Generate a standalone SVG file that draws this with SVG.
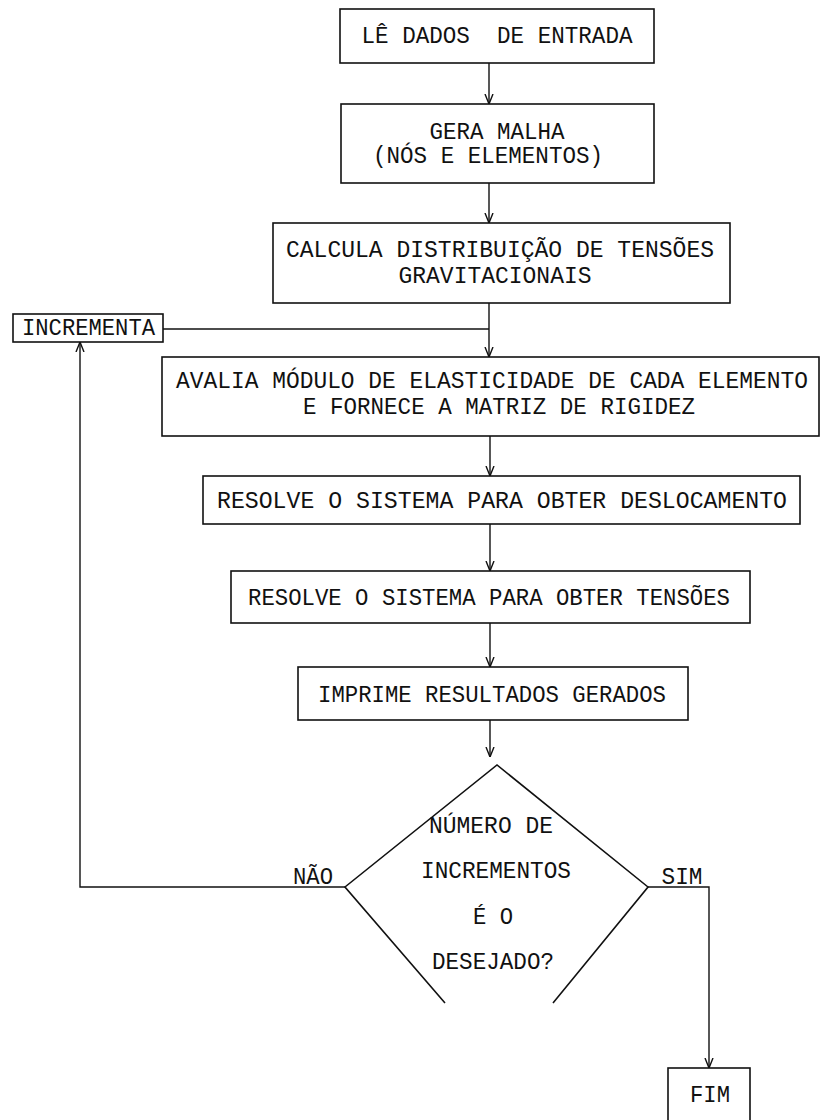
<svg xmlns="http://www.w3.org/2000/svg" width="823" height="1120" viewBox="0 0 823 1120">
<style>
  .box { fill: #fff; stroke: #111; stroke-width: 1.6; }
  .ln { fill: none; stroke: #111; stroke-width: 1.4; }
  .t { font-family: "Liberation Mono", "DejaVu Sans Mono", monospace; font-size: 23px; fill: #111; text-anchor: middle; }
</style>
<defs>
  <marker id="arr" viewBox="0 0 10 10" refX="10" refY="5" markerWidth="10" markerHeight="10" markerUnits="userSpaceOnUse" orient="auto">
    <path d="M0,1 L10,5 L0,9" fill="none" stroke="#111" stroke-width="1.4"/>
  </marker>
</defs>
<rect width="823" height="1120" fill="#fff"/>
<g id="connectors">
  <line class="ln" x1="489" y1="63" x2="489" y2="104" marker-end="url(#arr)"/>
  <line class="ln" x1="489" y1="183" x2="489" y2="223" marker-end="url(#arr)"/>
  <line class="ln" x1="489" y1="303" x2="489" y2="357" marker-end="url(#arr)"/>
  <polyline class="ln" points="163,329 489,329"/>
  <line class="ln" x1="490" y1="436" x2="490" y2="476" marker-end="url(#arr)"/>
  <line class="ln" x1="490" y1="524" x2="490" y2="571" marker-end="url(#arr)"/>
  <line class="ln" x1="490" y1="623" x2="490" y2="667" marker-end="url(#arr)"/>
  <line class="ln" x1="490" y1="720" x2="490" y2="757" marker-end="url(#arr)"/>
  <polyline class="ln" points="345,887 80,887 80,342" marker-end="url(#arr)"/>
  <polyline class="ln" points="648,887 709,887 709,1068" marker-end="url(#arr)"/>
  <text class="t" x="313" y="884" textLength="40" lengthAdjust="spacingAndGlyphs">NÃO</text>
  <text class="t" x="682" y="884" textLength="41" lengthAdjust="spacingAndGlyphs">SIM</text>
</g>
<g id="n1">
  <rect class="box" x="340" y="9" width="314" height="54"/>
  <text class="t" x="497" y="43" xml:space="preserve" textLength="271" lengthAdjust="spacingAndGlyphs">LÊ DADOS  DE ENTRADA</text>
</g>
<g id="n2">
  <rect class="box" x="341" y="104" width="313" height="79"/>
  <text class="t" x="497" y="139" textLength="135" lengthAdjust="spacingAndGlyphs">GERA MALHA</text>
  <text class="t" x="488" y="163" textLength="230" lengthAdjust="spacingAndGlyphs">(NÓS E ELEMENTOS)</text>
</g>
<g id="n3">
  <rect class="box" x="273" y="223" width="457" height="80"/>
  <text class="t" x="500" y="257" textLength="428" lengthAdjust="spacingAndGlyphs">CALCULA DISTRIBUIÇÃO DE TENSÕES</text>
  <text class="t" x="495" y="283" textLength="193" lengthAdjust="spacingAndGlyphs">GRAVITACIONAIS</text>
</g>
<g id="n_incrementa">
  <rect class="box" x="13" y="314" width="150" height="28"/>
  <text class="t" x="88.5" y="335" textLength="133" lengthAdjust="spacingAndGlyphs">INCREMENTA</text>
</g>
<g id="n4">
  <rect class="box" x="162" y="357" width="657" height="79"/>
  <text class="t" x="492" y="388" textLength="632" lengthAdjust="spacingAndGlyphs">AVALIA MÓDULO DE ELASTICIDADE DE CADA ELEMENTO</text>
  <text class="t" x="499" y="414" textLength="392" lengthAdjust="spacingAndGlyphs">E FORNECE A MATRIZ DE RIGIDEZ</text>
</g>
<g id="n5">
  <rect class="box" x="203" y="476" width="597" height="48"/>
  <text class="t" x="502" y="508" textLength="570" lengthAdjust="spacingAndGlyphs">RESOLVE O SISTEMA PARA OBTER DESLOCAMENTO</text>
</g>
<g id="n6">
  <rect class="box" x="231" y="571" width="519" height="52"/>
  <text class="t" x="489" y="605" textLength="482" lengthAdjust="spacingAndGlyphs">RESOLVE O SISTEMA PARA OBTER TENSÕES</text>
</g>
<g id="n7">
  <rect class="box" x="298" y="667" width="390" height="53"/>
  <text class="t" x="492" y="702" textLength="348" lengthAdjust="spacingAndGlyphs">IMPRIME RESULTADOS GERADOS</text>
</g>
<g id="n_decisao">
  <polyline class="box" fill="none" points="445,1003 345,887 497,765 648,887 553,1003"/>
  <text class="t" x="491" y="833" textLength="124" lengthAdjust="spacingAndGlyphs">NÚMERO DE</text>
  <text class="t" x="496" y="878" textLength="150" lengthAdjust="spacingAndGlyphs">INCREMENTOS</text>
  <text class="t" x="493" y="924" textLength="40" lengthAdjust="spacingAndGlyphs">É O</text>
  <text class="t" x="493" y="969" textLength="122" lengthAdjust="spacingAndGlyphs">DESEJADO?</text>
</g>
<g id="n_fim">
  <rect class="box" x="668" y="1068" width="82" height="60"/>
  <text class="t" x="710" y="1102" textLength="40" lengthAdjust="spacingAndGlyphs">FIM</text>
</g>
</svg>
